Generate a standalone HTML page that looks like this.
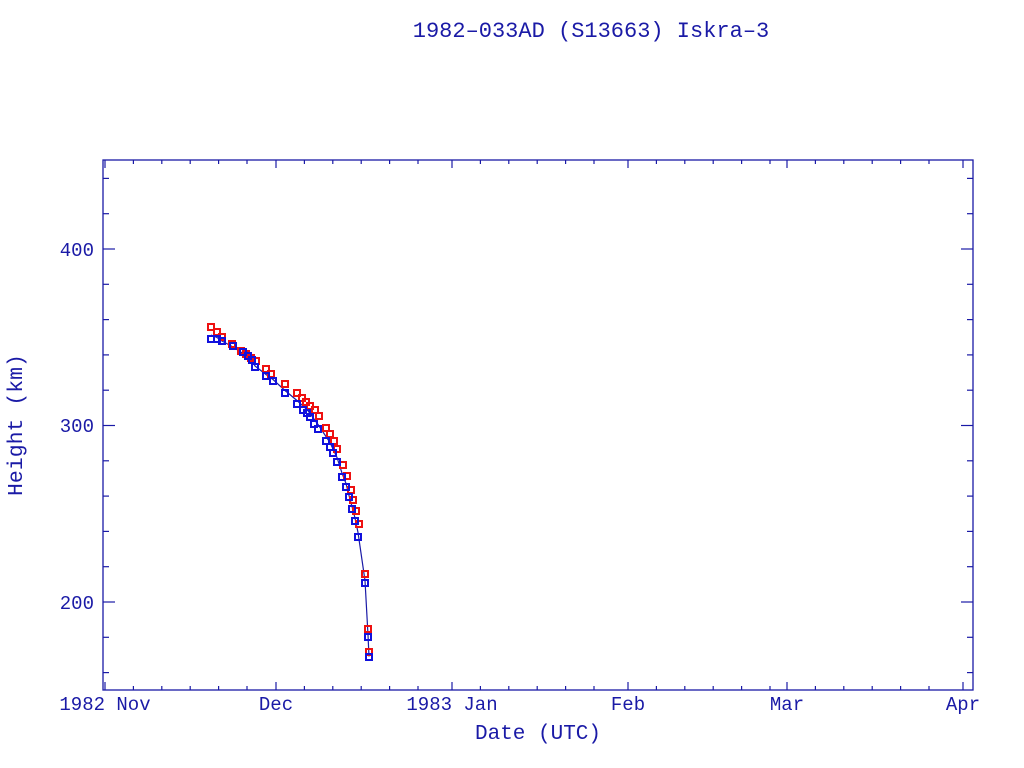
<!DOCTYPE html>
<html><head><meta charset="utf-8"><style>
body{margin:0;background:#fff;}
svg{display:block;}
text{font-family:"Liberation Mono",monospace;fill:#1a1aa6;}
</style></head><body>
<svg id="s" width="1024" height="768" xmlns="http://www.w3.org/2000/svg">
<text x="591" y="37" font-size="22" text-anchor="middle">1982–033AD (S13663) Iskra–3</text>
<text x="538" y="739" font-size="21" text-anchor="middle">Date (UTC)</text>
<text transform="translate(22,425) rotate(-90)" font-size="21.5" text-anchor="middle">Height (km)</text>
<g font-size="19">
<text x="94" y="256" text-anchor="end">400</text>
<text x="94" y="432" text-anchor="end">300</text>
<text x="94" y="609" text-anchor="end">200</text>
<text x="105" y="710" text-anchor="middle">1982 Nov</text>
<text x="276" y="710" text-anchor="middle">Dec</text>
<text x="452" y="710" text-anchor="middle">1983 Jan</text>
<text x="628" y="710" text-anchor="middle">Feb</text>
<text x="787" y="710" text-anchor="middle">Mar</text>
<text x="963" y="710" text-anchor="middle">Apr</text>
</g>
<rect x="103" y="160" width="870" height="530" fill="none" stroke="#1a1aa6" stroke-width="1.3"/>
<g id="t" stroke="#1a1aa6" stroke-width="1.2"></g>
<g id="d"></g>
</svg>
<script>
var ns="http://www.w3.org/2000/svg",t=document.getElementById('t'),d=document.getElementById('d');
function L(x1,y1,x2,y2,g,c,w){var l=document.createElementNS(ns,'line');l.setAttribute('x1',x1);l.setAttribute('y1',y1);l.setAttribute('x2',x2);l.setAttribute('y2',y2);if(c)l.setAttribute('stroke',c);if(w)l.setAttribute('stroke-width',w);(g||t).appendChild(l);}
for(var v=160;v<=440;v+=20){var y=602-(v-200)*1.765;var len=(v%100==0)?12:6;L(103,y,103+len,y);L(973,y,973-len,y);}
var months=[105,276,452,628,787,963];
months.forEach(function(x){L(x,690,x,682);L(x,160,x,168);});
var ppd=5.68;
var starts=[[105,30],[276,31],[452,31],[628,28],[787,31]];
starts.forEach(function(m){for(var k=5;k<m[1]-1;k+=5){var x=m[0]+k*ppd;L(x,690,x,686);L(x,160,x,164);}});
var B=[[211,339],[217,339],[222,341],[233,346],[243,352],[248,356],[252,360],[255,367],[266,376],[273,381],[285,393],[297,404],[303,410],[307,413],[310,417],[314,424],[318,429],[326,441],[330,447],[333,453],[337,462],[342,477],[346,487],[349,497],[352,509],[355,521],[358,537],[365,583],[368,637],[369,657]];
var R=[[211,327],[217,332],[222,337],[232,344],[241,351],[246,354],[251,358],[256,361],[266,369],[271,374],[285,384],[297,393],[302,398],[306,402],[310,406],[315,410],[319,416],[326,428],[330,434],[334,441],[337,449],[343,465],[347,476],[351,490],[353,500],[356,511],[359,524],[365,574],[368,629],[369,652]];
var pts=B.map(function(p,i){return p[0]+','+((p[1]+R[i][1])/2+2);}).join(' ');
var pl=document.createElementNS(ns,'polyline');pl.setAttribute('points',pts);pl.setAttribute('fill','none');pl.setAttribute('stroke','#1a1aa6');pl.setAttribute('stroke-width','1.2');d.appendChild(pl);
function sq(p,c){var r=document.createElementNS(ns,'rect');r.setAttribute('x',p[0]-3);r.setAttribute('y',p[1]-3);r.setAttribute('width',6);r.setAttribute('height',6);r.setAttribute('fill','none');r.setAttribute('stroke',c);r.setAttribute('stroke-width','2');d.appendChild(r);}
R.forEach(function(p){sq(p,'#ee1111');});
B.forEach(function(p){sq(p,'#1111dd');});
</script>
</body></html>
